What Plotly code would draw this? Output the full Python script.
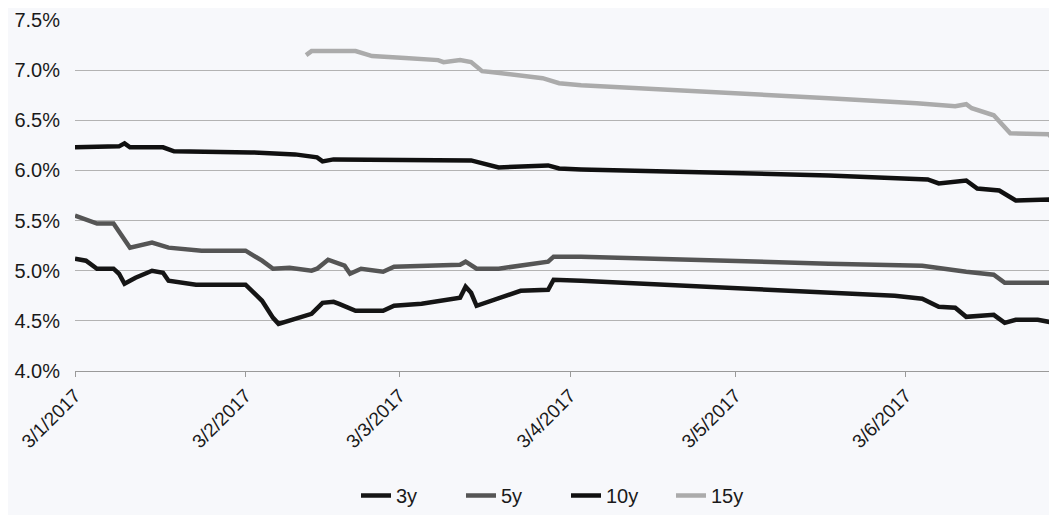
import plotly.graph_objects as go

# ---- data (yields in %) ----
dates_3y = ["2017-01-03","2017-01-05","2017-01-07","2017-01-10","2017-01-11","2017-01-12","2017-01-14",
            "2017-01-17","2017-01-19","2017-01-20","2017-01-25","2017-02-03","2017-02-06","2017-02-08",
            "2017-02-09","2017-02-14","2017-02-15","2017-02-17","2017-02-19","2017-02-20","2017-02-22",
            "2017-02-23","2017-02-28","2017-03-02","2017-03-07","2017-03-14","2017-03-15","2017-03-16",
            "2017-03-17","2017-03-22","2017-03-25","2017-03-30","2017-03-31","2017-04-05","2017-05-20",
            "2017-06-01","2017-06-06","2017-06-09","2017-06-12","2017-06-14","2017-06-19","2017-06-21",
            "2017-06-23","2017-06-27","2017-06-30"]
vals_3y = [5.12,5.10,5.02,5.02,4.97,4.87,4.93,
           5.00,4.98,4.90,4.86,4.86,4.70,4.53,
           4.47,4.55,4.57,4.68,4.69,4.67,4.62,
           4.60,4.60,4.65,4.67,4.73,4.84,4.78,
           4.65,4.75,4.80,4.81,4.91,4.90,4.79,
           4.75,4.72,4.64,4.63,4.54,4.56,4.48,
           4.51,4.51,4.48]

dates_5y = ["2017-01-03","2017-01-07","2017-01-10","2017-01-13","2017-01-17","2017-01-20","2017-01-26",
            "2017-02-03","2017-02-06","2017-02-08","2017-02-11","2017-02-15","2017-02-16","2017-02-18",
            "2017-02-21","2017-02-22","2017-02-24","2017-02-28","2017-03-02","2017-03-14","2017-03-15",
            "2017-03-17","2017-03-21","2017-03-30","2017-03-31","2017-04-05","2017-05-20","2017-06-06",
            "2017-06-14","2017-06-19","2017-06-21","2017-06-30"]
vals_5y = [5.55,5.47,5.47,5.23,5.28,5.23,5.20,
           5.20,5.10,5.02,5.03,5.00,5.02,5.11,
           5.05,4.97,5.02,4.99,5.04,5.06,5.09,
           5.02,5.02,5.09,5.14,5.14,5.07,5.05,
           4.99,4.96,4.88,4.88]

dates_10y = ["2017-01-03","2017-01-11","2017-01-12","2017-01-13","2017-01-19","2017-01-21","2017-02-04",
             "2017-02-12","2017-02-16","2017-02-17","2017-02-19","2017-03-01","2017-03-16","2017-03-21",
             "2017-03-30","2017-04-01","2017-04-05","2017-05-20","2017-06-07","2017-06-09","2017-06-14",
             "2017-06-16","2017-06-20","2017-06-23","2017-06-29","2017-06-30"]
vals_10y = [6.23,6.24,6.27,6.23,6.23,6.19,6.18,
            6.16,6.13,6.09,6.11,6.11,6.10,6.03,
            6.05,6.02,6.01,5.95,5.91,5.87,5.90,
            5.82,5.80,5.70,5.71,5.68]

dates_15y = ["2017-02-14","2017-02-15","2017-02-23","2017-02-26","2017-03-04","2017-03-10","2017-03-11",
             "2017-03-14","2017-03-16","2017-03-18","2017-03-20","2017-03-25","2017-03-29","2017-04-01",
             "2017-04-05","2017-05-20","2017-05-27","2017-06-05","2017-06-12","2017-06-14","2017-06-15",
             "2017-06-19","2017-06-22","2017-06-29","2017-06-30"]
vals_15y = [7.15,7.19,7.19,7.14,7.12,7.10,7.08,
            7.10,7.08,6.99,6.98,6.95,6.92,6.87,
            6.85,6.72,6.70,6.67,6.64,6.66,6.62,
            6.55,6.37,6.36,6.30]

tick_dates = ["2017-01-03","2017-02-03","2017-03-03","2017-04-03","2017-05-03","2017-06-03"]
tick_labels = ["3/1/2017","3/2/2017","3/3/2017","3/4/2017","3/5/2017","3/6/2017"]
y_ticks = [4.0,4.5,5.0,5.5,6.0,6.5,7.0,7.5]
y_tick_labels = ["4.0%","4.5%","5.0%","5.5%","6.0%","6.5%","7.0%","7.5%"]

series = [
    ("3y", dates_3y, vals_3y, "#151515"),
    ("5y", dates_5y, vals_5y, "#555555"),
    ("10y", dates_10y, vals_10y, "#101010"),
    ("15y", dates_15y, vals_15y, "#ababab"),
]

fig = go.Figure()
for name, xs, ys, col in series:
    fig.add_trace(go.Scatter(x=xs, y=ys, name=name, mode="lines",
                             line=dict(color=col, width=4.5)))

BG = "#f7f8fb"
FONT = "Liberation Sans, Arial, sans-serif"
fig.update_layout(
    width=1049, height=507,
    margin=dict(l=67, r=0, t=12, b=143),
    paper_bgcolor=BG, plot_bgcolor=BG,
    font=dict(family=FONT, size=20, color="#1a1a1a"),
    showlegend=True,
    legend=dict(orientation="h", x=0.5, xanchor="center", y=-0.355, yanchor="middle",
                font=dict(size=20), bgcolor="rgba(0,0,0,0)", entrywidth=60, entrywidthmode="pixels"),
    xaxis=dict(type="date", range=["2017-01-03", "2017-06-30 12:00"],
               tickvals=tick_dates, ticktext=tick_labels, tickangle=-45,
               showgrid=False, showline=True, linecolor="#9a9a9a", linewidth=1,
               ticks="outside", ticklen=5, tickcolor="#9a9a9a",
               tickfont=dict(size=19), zeroline=False, automargin=False),
    yaxis=dict(range=[4.0, 7.5], tickvals=y_ticks, ticktext=y_tick_labels,
               showgrid=True, gridcolor="#b3b3b3", gridwidth=1, zeroline=False,
               showline=False, ticks="", ticklabelstandoff=14, tickfont=dict(size=20),
               automargin=False),
)

fig.write_html("out.html")
